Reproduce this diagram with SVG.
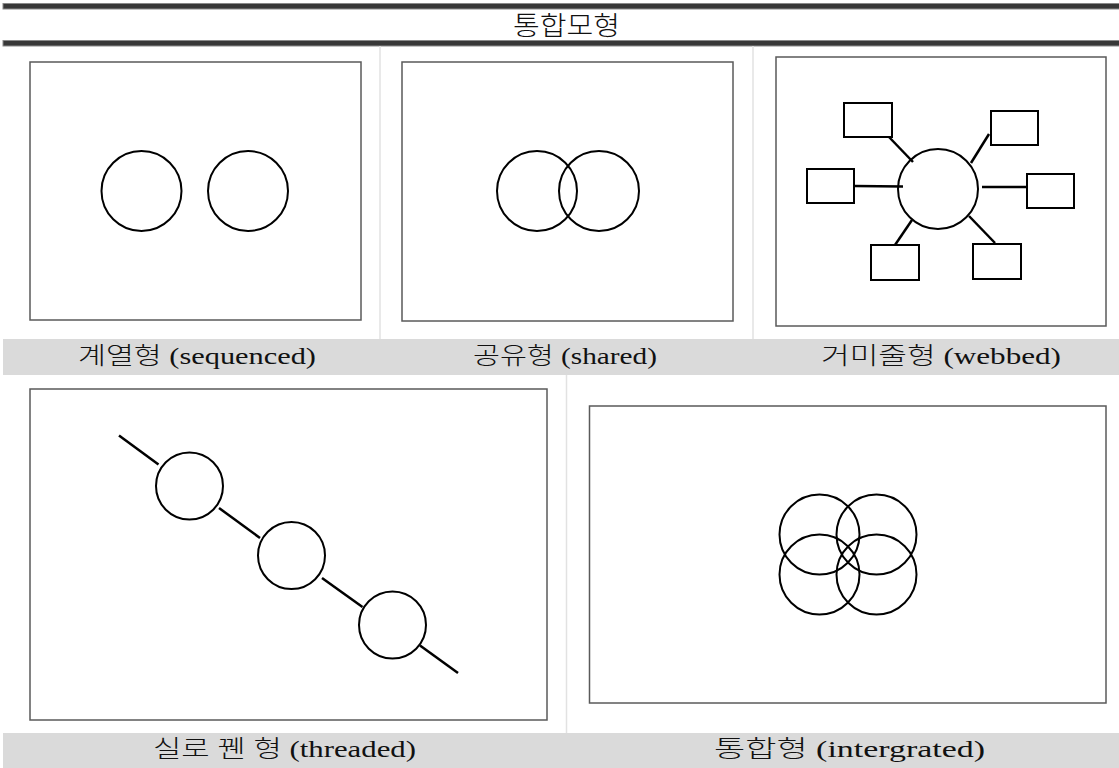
<svg xmlns="http://www.w3.org/2000/svg" width="1119" height="768" viewBox="0 0 1119 768">
<style>
.bar{fill:#383838;stroke:#8a8a8a;stroke-width:1}
.band{fill:#dadada}
.div{stroke:#e2e2e2;stroke-width:1.5;fill:none}
.frame{fill:#fff;stroke:#5a5a5a;stroke-width:1.5}
.c{fill:none;stroke:#000;stroke-width:2}
.box{fill:#fff;stroke:#000;stroke-width:2}
.ln{stroke:#000;stroke-width:2.5;fill:none}
.lbl{font-family:"Liberation Serif","Noto Sans CJK KR",serif;font-size:24px;font-weight:300;fill:#111}
.ttl{font-family:"Noto Sans CJK KR",sans-serif;font-size:26px;font-weight:300;fill:#111}
</style>
<rect width="1119" height="768" fill="#fff"/>
<g id="header">
<rect class="bar" x="3" y="3.5" width="1117" height="5.5"/>
<rect class="bar" x="3" y="40.5" width="1117" height="5.5"/>
<text class="ttl" x="513" y="35" textLength="107" lengthAdjust="spacingAndGlyphs">통합모형</text>
</g>
<g id="dividers">
<line class="div" x1="380" y1="46" x2="380" y2="375"/>
<line class="div" x1="753" y1="46" x2="753" y2="375"/>
<line class="div" x1="566.5" y1="375" x2="566.5" y2="768"/>
</g>
<g id="bands">
<rect class="band" x="3" y="339" width="1116" height="36"/>
<rect class="band" x="3" y="733" width="1116" height="35"/>
</g>
<g id="sequenced">
<rect class="frame" x="30" y="62" width="331" height="258"/>
<circle class="c" cx="141.5" cy="191" r="40"/>
<circle class="c" cx="248" cy="191" r="40"/>
<text class="lbl" x="78" y="364" textLength="238" lengthAdjust="spacingAndGlyphs">계열형 (sequenced)</text>
</g>
<g id="shared">
<rect class="frame" x="402" y="62" width="331" height="259"/>
<circle class="c" cx="537" cy="191" r="40"/>
<circle class="c" cx="599" cy="191" r="40"/>
<text class="lbl" x="473" y="364" textLength="184" lengthAdjust="spacingAndGlyphs">공유형 (shared)</text>
</g>
<g id="webbed">
<rect class="frame" x="776" y="57" width="330" height="269"/>
<g id="web-connectors">
<line class="ln" x1="889" y1="137" x2="913" y2="162"/>
<line class="ln" x1="989" y1="134" x2="971" y2="163"/>
<line class="ln" x1="855" y1="186" x2="903" y2="186.5"/>
<line class="ln" x1="982" y1="187" x2="1027" y2="187"/>
<line class="ln" x1="912" y1="220" x2="895" y2="245"/>
<line class="ln" x1="969" y1="216" x2="995" y2="243"/>
</g>
<circle class="c" cx="938" cy="189" r="40"/>
<rect class="box" x="844" y="103" width="48" height="34"/>
<rect class="box" x="991" y="111" width="47" height="34"/>
<rect class="box" x="807" y="169" width="47" height="34"/>
<rect class="box" x="1027" y="174" width="47" height="34"/>
<rect class="box" x="871" y="245" width="48" height="35"/>
<rect class="box" x="973" y="244" width="48" height="35"/>
<text class="lbl" x="821" y="364" textLength="240" lengthAdjust="spacingAndGlyphs">거미줄형 (webbed)</text>
</g>
<g id="threaded">
<rect class="frame" x="30" y="389" width="517" height="331"/>
<g id="thread-connectors">
<line class="ln" x1="119" y1="435.5" x2="158.5" y2="464.5"/>
<line class="ln" x1="219" y1="508" x2="260" y2="538"/>
<line class="ln" x1="322" y1="578" x2="362.5" y2="607"/>
<line class="ln" x1="420" y1="645.5" x2="458" y2="673"/>
</g>
<circle class="c" cx="189.5" cy="486" r="33.5"/>
<circle class="c" cx="291.5" cy="555.5" r="33.5"/>
<circle class="c" cx="392.5" cy="625" r="33.5"/>
<text class="lbl" x="153" y="757" textLength="263" lengthAdjust="spacingAndGlyphs">실로 꿴 형 (threaded)</text>
</g>
<g id="integrated">
<rect class="frame" x="589.5" y="406" width="516.5" height="297"/>
<circle class="c" cx="819.5" cy="534.5" r="40"/>
<circle class="c" cx="876.5" cy="534.5" r="40"/>
<circle class="c" cx="819.5" cy="574.5" r="40"/>
<circle class="c" cx="876.5" cy="574.5" r="40"/>
<text class="lbl" x="714" y="757" textLength="271" lengthAdjust="spacingAndGlyphs">통합형 (intergrated)</text>
</g>
</svg>
